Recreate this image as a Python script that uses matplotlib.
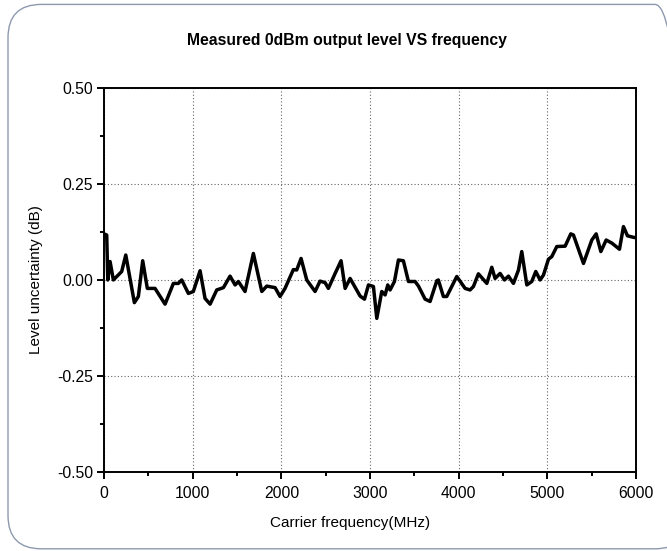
import matplotlib; matplotlib.use("Agg")
import matplotlib.pyplot as plt
from matplotlib.patches import FancyBboxPatch
from matplotlib.ticker import MultipleLocator

# carrier frequency (MHz) and level uncertainty (dB)
freq = [0, 30, 42, 68, 105, 199, 245, 342, 387, 436, 488, 575, 688, 782, 838, 876,
        951, 1007, 1083, 1139, 1196, 1271, 1346, 1421, 1478, 1515, 1590, 1684, 1779,
        1835, 1929, 1985, 2041, 2135, 2173, 2222, 2286, 2380, 2436, 2493, 2530, 2606,
        2673, 2719, 2775, 2888, 2937, 2982, 3038, 3076, 3132, 3170, 3200, 3226, 3275,
        3320, 3376, 3433, 3508, 3546, 3621, 3677, 3753, 3770, 3827, 3865, 3978, 4072,
        4128, 4166, 4222, 4317, 4373, 4410, 4467, 4516, 4561, 4617, 4674, 4711, 4768,
        4824, 4869, 4918, 4956, 5012, 5050, 5106, 5200, 5264, 5294, 5407, 5501, 5550,
        5603, 5663, 5727, 5813, 5858, 5903, 5971, 6000]
level = [0.12, 0.117, 0.0, 0.048, 0.0, 0.022, 0.065, -0.059, -0.043, 0.050, -0.022,
         -0.022, -0.063, -0.009, -0.009, 0.0, -0.035, -0.030, 0.024, -0.048, -0.063,
         -0.026, -0.020, 0.010, -0.013, -0.004, -0.030, 0.069, -0.030, -0.016, -0.020,
         -0.043, -0.022, 0.027, 0.026, 0.056, 0.0, -0.030, -0.003, -0.007, -0.022,
         0.017, 0.050, -0.022, 0.004, -0.042, -0.050, -0.013, -0.017, -0.100, -0.030,
         -0.039, -0.013, -0.026, -0.004, 0.052, 0.050, -0.004, -0.004, -0.016, -0.050,
         -0.056, -0.002, 0.0, -0.043, -0.043, 0.009, -0.022, -0.026, -0.017, 0.016,
         -0.009, 0.033, 0.004, 0.017, 0.0, 0.010, -0.009, 0.026, 0.074, -0.013, -0.004,
         0.022, 0.0, 0.013, 0.054, 0.061, 0.087, 0.088, 0.120, 0.117, 0.043, 0.104,
         0.120, 0.074, 0.104, 0.096, 0.080, 0.139, 0.115, 0.111, 0.110]

plt.rcParams['font.family'] = ['Liberation Sans', 'DejaVu Sans']
fig = plt.figure(figsize=(6.67, 5.51), dpi=100)
# rounded frame, running off the right edge of the image
fig.patches.append(FancyBboxPatch((0.012, 0.004), 1.02, 0.988,
                                  boxstyle="round,pad=0,rounding_size=0.05", mutation_aspect=667/551,
                                  transform=fig.transFigure, fill=False, ec="#8d9aae", lw=1.0))
ax = fig.add_axes([0.156, 0.1434, 0.7976, 0.697])
ax.plot(freq, level, color="black", lw=2.5)
ax.set_xlim(0, 6000); ax.set_ylim(-0.5, 0.5)
ax.xaxis.set_major_locator(MultipleLocator(1000)); ax.xaxis.set_minor_locator(MultipleLocator(500))
ax.yaxis.set_major_locator(MultipleLocator(0.25)); ax.yaxis.set_minor_locator(MultipleLocator(0.125))
ax.yaxis.set_major_formatter(plt.FormatStrFormatter("%.2f"))
ax.grid(True, which="major", color="#666666", ls=(0, (1, 2)), lw=0.8)
for s in ax.spines.values(): s.set_linewidth(1.4)
ax.tick_params(which="major", direction="out", length=5, width=1.4, labelsize=11.3, pad=3)
ax.tick_params(axis="x", which="major", pad=5)
ax.tick_params(which="minor", direction="out", length=3, width=1.4)
ax.set_xlabel("Carrier frequency(MHz)", fontsize=11)
ax.xaxis.set_label_coords(0.462, -0.115)  # label sits a bit left of the axes centre
ax.set_ylabel("Level uncertainty (dB)", fontsize=11, labelpad=10)
fig.text(0.52, 0.927, "Measured 0dBm output level VS frequency", ha="center", va="center",
         fontsize=11.3, fontweight="bold")
fig.savefig("out.png", dpi=100)
